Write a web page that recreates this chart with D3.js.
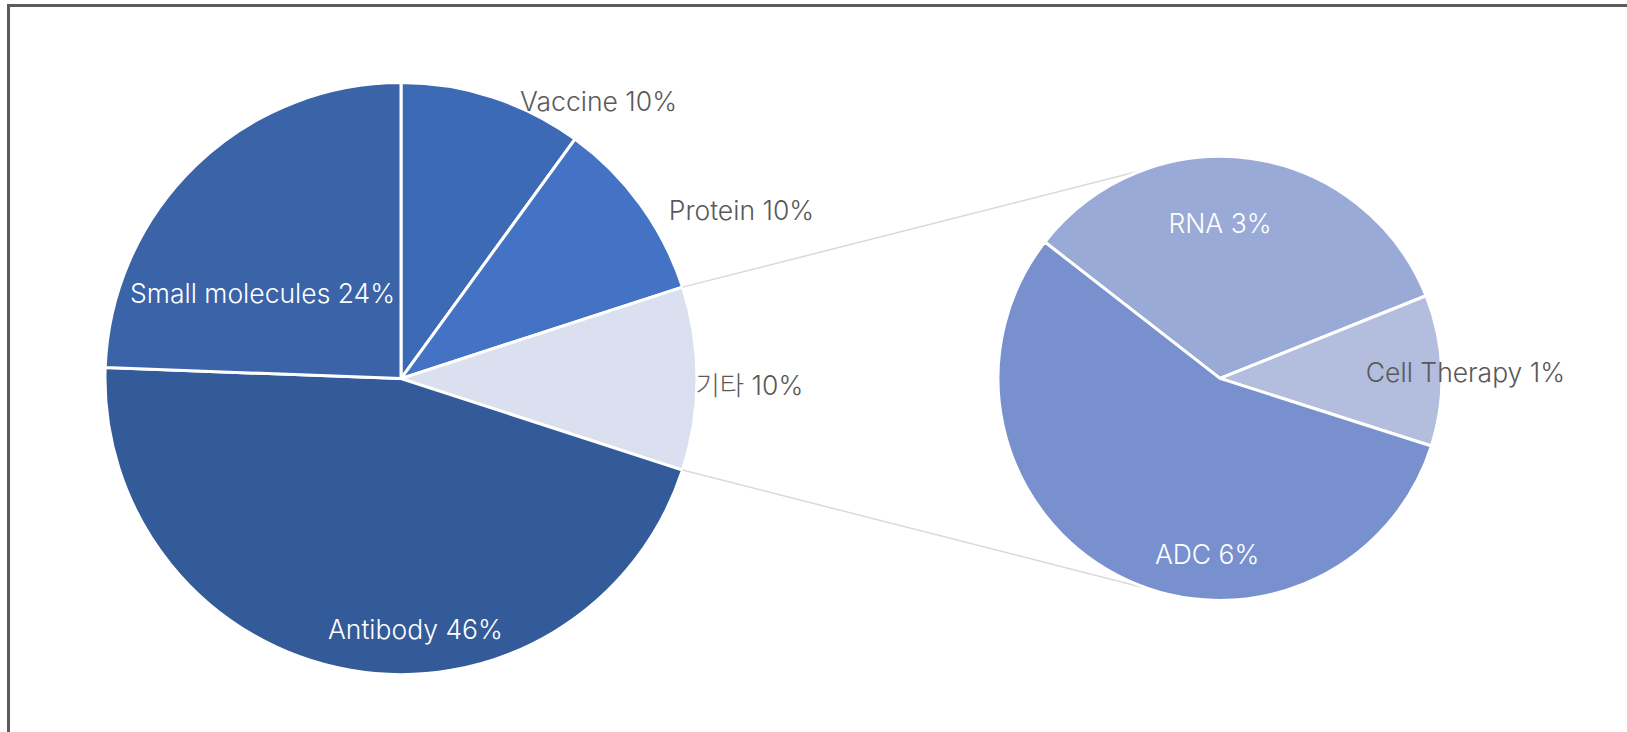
<!DOCTYPE html>
<html>
<head>
<meta charset="utf-8">
<script src="https://cdn.jsdelivr.net/npm/d3@7"></script>
<style>
  html, body { margin: 0; padding: 0; background: #ffffff; }
  svg { display: block; }
</style>
</head>
<body>
<svg id="pie"></svg>
<script>
// main pie (share of whole, %)
const mainNames = ['Vaccine', 'Protein', '기타', 'Antibody', 'Small molecules'];
const mainValues = [10, 10, 10, 45.6, 24.4];
const mainColors = ['#3d6ab5', '#4472c4', '#dae0ef', '#335a99', '#3a63a8'];

// second pie: breakdown of 기타 (share of whole, %)
const subNames = ['RNA', 'Cell Therapy', 'ADC'];
const subValues = [3.34, 1.1, 5.56];
const subColors = ['#99aad6', '#b3bedf', '#7891ce'];

const ancho = 1627;
const alto = 732;

const svg = d3.select('#pie').attr('width', ancho).attr('height', alto);

// frame (left and top edge visible)
svg.append('rect')
    .attr('x', 8.5).attr('y', 5.5)
    .attr('width', ancho + 20).attr('height', alto + 20)
    .attr('fill', '#ffffff')
    .attr('stroke', '#5b5b5b')
    .attr('stroke-width', 3);

const deg = Math.PI / 180;

const main = {cx: 401, cy: 378.6, r: 296, start: 0};
const sub = {cx: 1220, cy: 378.4, r: 222, start: -52.1};

// label placement: angle (deg) and distance (fraction of radius) of the text centre
const mainLabelPos = [[35.4, 1.152], [63.6, 1.284], [91, 1.177], [176.7, 0.848], [301.6, 0.549]];
const subLabelPos = [[0, 0.70], [88.6, 1.106], [184.2, 0.794]];

function polar (p, a, rr) {
    return [p.cx + rr * Math.sin(a * deg), p.cy - rr * Math.cos(a * deg)];
}

function drawPie (p, names, values, colors, labelPos, darkLabels) {
    const arcs = d3.pie().sort(null)
        .startAngle(p.start * deg)
        .endAngle((p.start + 360) * deg)(values);
    const arc = d3.arc().innerRadius(0).outerRadius(p.r);

    const g = svg.append('g').attr('transform', 'translate(' + p.cx + ',' + p.cy + ')');
    g.selectAll('path')
        .data(arcs).enter()
        .append('path')
        .attr('d', arc)
        .attr('fill', function (d, i) { return colors[i]; })
        .attr('stroke', '#ffffff')
        .attr('stroke-width', 3)
        .attr('stroke-linejoin', 'round');

    svg.selectAll(null)
        .data(arcs).enter()
        .append('text')
        .attr('x', function (d, i) { return polar(p, labelPos[i][0], labelPos[i][1] * p.r)[0]; })
        .attr('y', function (d, i) { return polar(p, labelPos[i][0], labelPos[i][1] * p.r)[1]; })
        .attr('text-anchor', 'middle')
        .attr('dominant-baseline', 'central')
        .style('font-family', 'Inter, "Noto Sans CJK KR", sans-serif')
        .style('font-size', '26.5px')
        .style('font-weight', 300)
        .style('fill', function (d, i) { return darkLabels.indexOf(i) >= 0 ? '#595959' : '#ffffff'; })
        .text(function (d, i) { return names[i] + ' ' + Math.round(values[i]) + '%'; });

    return arcs;
}

const mainArcs = drawPie(main, mainNames, mainValues, mainColors, mainLabelPos, [0, 1, 2]);

// connector lines from the 기타 slice to the second pie
const other = mainArcs[2];
const joins = [
    [polar(main, other.startAngle / deg, main.r), polar(sub, -20.4, sub.r)],
    [polar(main, other.endAngle / deg, main.r), polar(sub, 197.9, sub.r)]
];
svg.selectAll('line.join')
    .data(joins).enter()
    .append('line')
    .attr('class', 'join')
    .attr('x1', function (d) { return d[0][0]; })
    .attr('y1', function (d) { return d[0][1]; })
    .attr('x2', function (d) { return d[1][0]; })
    .attr('y2', function (d) { return d[1][1]; })
    .attr('stroke', '#d9d9d9')
    .attr('stroke-width', 1.5);

drawPie(sub, subNames, subValues, subColors, subLabelPos, [1]);
</script>
</body>
</html>
